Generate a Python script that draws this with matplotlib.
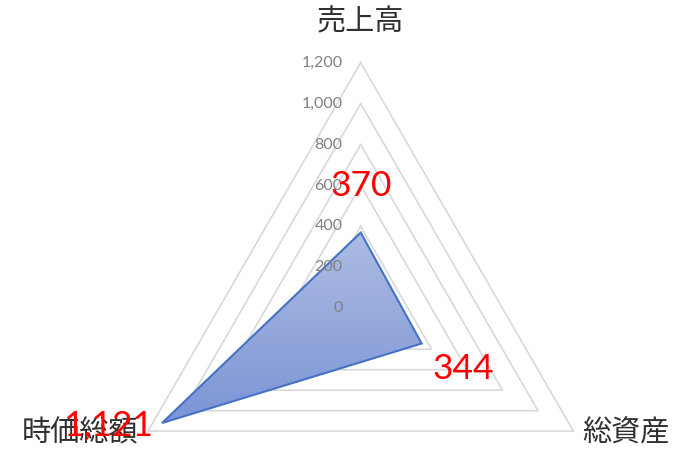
import numpy as np
import matplotlib.pyplot as plt
from matplotlib.colors import LinearSegmentedColormap
from matplotlib.patches import Polygon

# データ
kategorien = ['売上高', '総資産', '時価総額']
werte = [370, 344, 1121]
ticks = [0, 200, 400, 600, 800, 1000, 1200]
tick_labels = ['0', '200', '400', '600', '800', '1,000', '1,200']
wert_labels = ['370', '344', '1,121']

winkel = np.deg2rad([90, -30, 210])

def xy(r):
    r = np.asarray(r, dtype=float)
    return r * np.cos(winkel), r * np.sin(winkel)

fig = plt.figure(figsize=(6.81, 4.63), dpi=100)
ax = fig.add_axes([0, 0, 1, 1])
s = 245.6 / 1200  # px pro Einheit
cx, cy = 360.7, 463 - 308.3
ax.set_xlim(-cx / s, (681 - cx) / s)
ax.set_ylim(-cy / s, (463 - cy) / s)
ax.axis('off')

# Gitter-Dreiecke
for t in ticks[1:]:
    gx, gy = xy([t] * 3)
    ax.plot(np.append(gx, gx[0]), np.append(gy, gy[0]), color='#d9d9d9', lw=1.2, zorder=1)

# Datenfläche mit Verlauf
px, py = xy(werte)
poly = Polygon(np.column_stack([px, py]), closed=True, facecolor='none',
               edgecolor='#4472c4', lw=1.5, zorder=4)
ax.add_patch(poly)
cmap = LinearSegmentedColormap.from_list('grad', ['#7b94d5', '#aebce3'])
grad = np.linspace(0, 1, 256).reshape(-1, 1)
im = ax.imshow(grad, cmap=cmap, origin='lower', aspect='auto',
               extent=[px.min(), px.max(), py.min(), py.max()], zorder=3)
clip = Polygon(np.column_stack([px, py]), closed=True, transform=ax.transData)
im.set_clip_path(clip)
ax.set_xlim(-cx / s, (681 - cx) / s)
ax.set_ylim(-cy / s, (463 - cy) / s)

# Werteachse Beschriftung (über der Fläche)
for t, lab in zip(ticks, tick_labels):
    ax.annotate(lab, (0, t), xytext=(-18, 0), textcoords='offset pixels',
                ha='right', va='center', fontsize=11.5, color='#808080',
                family=['Lato', 'DejaVu Sans'], zorder=5)

# Kategorien
ox, oy = xy([1200] * 3)
kat_off = [(0, 40), (53, -2), (-68, -2)]
for k, x, y, off in zip(kategorien, ox, oy, kat_off):
    ax.annotate(k, (x, y), xytext=off, textcoords='offset pixels',
                ha='center', va='center', fontsize=21, color='#303030',
                family=['Noto Sans CJK JP', 'DejaVu Sans'], zorder=5)

# Datenbeschriftungen
wert_off = [(0, 47), (42, -25), (-54, -2)]
for lab, x, y, off in zip(wert_labels, px, py, wert_off):
    ax.annotate(lab, (x, y), xytext=off, textcoords='offset pixels',
                ha='center', va='center', fontsize=25.5, color='#ff0000',
                family=['Lato', 'DejaVu Sans'], zorder=6)

fig.savefig('out.png', dpi=100)
